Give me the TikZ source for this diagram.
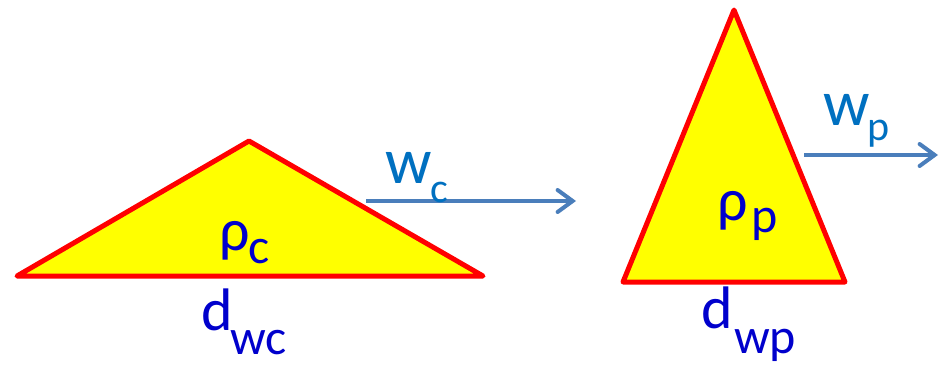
\documentclass[tikz,border=0pt]{standalone}
\usepackage{fontspec}
\setmainfont{Carlito}
\usetikzlibrary{arrows.meta}
\definecolor{tri}{RGB}{255,255,0}
\definecolor{edge}{RGB}{255,0,0}
\definecolor{dblue}{RGB}{0,0,204}
\definecolor{lblue}{RGB}{0,112,192}
\definecolor{arr}{RGB}{74,126,187}
\tikzset{
  trishape/.style={draw=edge, fill=tri, line width=5pt, line join=round},
  flow/.style={draw=arr, line width=4pt, -{Straight Barb[length=15pt,width=22pt,line width=4pt,line cap=round]}},
  bigtxt/.style={anchor=base west, inner sep=0pt, text depth=0pt, text=dblue, font=\fontsize{60}{60}\selectfont},
  subtxt/.style={anchor=base west, inner sep=0pt, text depth=0pt, text=dblue, font=\fontsize{50}{50}\selectfont},
  wtxt/.style={anchor=base west, inner sep=0pt, text depth=0pt, text=lblue, font=\fontsize{65}{65}\selectfont},
  wsub/.style={anchor=base west, inner sep=0pt, text depth=0pt, text=lblue, font=\fontsize{42}{42}\selectfont}
}
\begin{document}
\begin{tikzpicture}[x=1pt,y=-1pt]
\useasboundingbox (0,0) rectangle (950,364);
% triangles
\coordinate (c1) at (17,276);
\coordinate (c2) at (249,141);
\coordinate (c3) at (483,276);
\draw[trishape] (c1) -- (c2) -- (c3) -- cycle;
\coordinate (p1) at (623,282);
\coordinate (p2) at (734,10);
\coordinate (p3) at (845,282);
\draw[trishape] (p1) -- (p2) -- (p3) -- cycle;
% arrows
\coordinate (a1s) at (366,201);
\coordinate (a1e) at (576,201);
\draw[flow] (a1s) -- (a1e);
\coordinate (a2s) at (804,155);
\coordinate (a2e) at (938,155);
\draw[flow] (a2s) -- (a2e);
% labels
\node[bigtxt] (rc) at (219,250) {ρ};
\node[subtxt] (rcs) at (248,263) {c};
\node[bigtxt] (dwc) at (201,330) {d};
\node[subtxt] (dwcs) at (230,354) {wc};
\node[wtxt] (wc) at (385,183) {w};
\node[wsub] (wcs) at (430,202) {c};
\node[bigtxt] (rp) at (717,220) {ρ};
\node[subtxt] (rps) at (751,232) {p};
\node[bigtxt] (dwp) at (701,328) {d};
\node[subtxt] (dwps) at (734,353) {wp};
\node[wtxt] (wp) at (823,125) {w};
\node[wsub] (wps) at (867,140) {p};
\end{tikzpicture}
\end{document}
